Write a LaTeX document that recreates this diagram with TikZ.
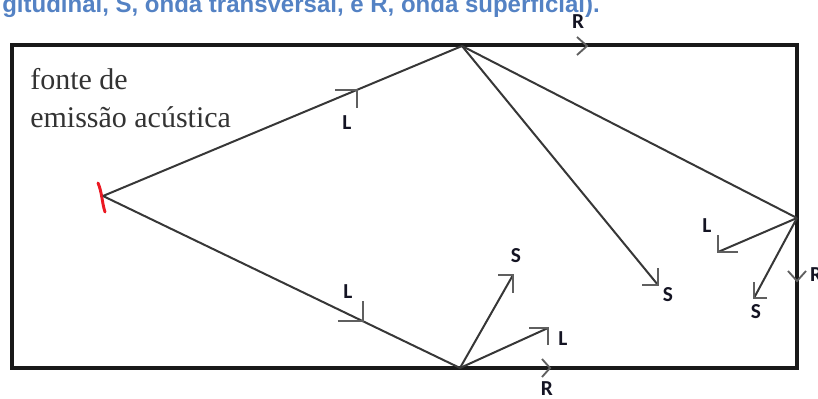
\documentclass[tikz,border=0pt]{standalone}
\usepackage{fontspec}
\setmainfont{Liberation Serif}
\newfontfamily\tagfont{Carlito}
\newfontfamily\capfont{Liberation Sans}

\definecolor{frameColor}{RGB}{25,25,25}
\definecolor{rayColor}{RGB}{55,55,55}
\definecolor{barbColor}{RGB}{95,95,95}
\definecolor{sourceRed}{RGB}{235,25,35}
\definecolor{capBlue}{RGB}{84,130,196}
\definecolor{tagColor}{RGB}{20,20,35}

\begin{document}
\begin{tikzpicture}[
  x=0.75pt, y=-0.75pt,
  frame/.style={draw=frameColor, line width=2.6pt},
  wave/.style={draw=rayColor, line width=1.5pt},
  barb/.style={draw=barbColor, line width=1.4pt},
  sourcemark/.style={draw=sourceRed, line width=2.2pt, line cap=round},
  tag/.style={font=\tagfont\fontsize{16}{16}\selectfont\bfseries, text=tagColor, inner sep=0pt},
  caption/.style={font=\capfont\fontsize{18}{18}\selectfont\bfseries, text=capBlue, inner sep=0pt},
  note/.style={font=\fontsize{22.5}{28.5}\selectfont, text=black!80, align=left, inner sep=0pt}
]
\useasboundingbox (0,0) rectangle (818,399);

% Caption cut by the top edge
\node[caption, anchor=base west] (cap) at (2,13) {gitudinal, S, onda transversal, e R, onda superficial).};

% Specimen outline
\draw[frame] (12,45) rectangle (797,368);

% Source label (base = last line)
\node[note, anchor=base west] (srcText) at (30,128) {fonte de\\emissão acústica};

% Reflection points and wave ends
\coordinate (src) at (103,196);
\coordinate (top) at (462,46);
\coordinate (bot) at (460,368);
\coordinate (rgt) at (797,218);
\coordinate (sTop) at (658,285);
\coordinate (lRgt) at (718,252);
\coordinate (sRgt) at (754,298);
\coordinate (sBot) at (513,275);
\coordinate (lBot) at (548,328);
\coordinate (rTop) at (587,46);
\coordinate (rBot) at (550,368);
\coordinate (rRgt) at (797,281);

% Source mark
\draw[sourcemark] (98,183) .. controls (102,192) and (102,203) .. (105,212);

% Rays
\draw[wave] (src) -- coordinate[pos=0.708] (mkUp) (top);
\draw[wave] (src) -- coordinate[pos=0.728] (mkDown) (bot);
\draw[wave] (top) -- (sTop);
\draw[wave] (top) -- (rgt);
\draw[wave] (rgt) -- (lRgt);
\draw[wave] (rgt) -- (sRgt);
\draw[wave] (bot) -- (sBot);
\draw[wave] (bot) -- (lBot);

% Direction marks
\draw[barb] (mkUp) ++(-22,0) -- (mkUp) -- ++(0,18);
\draw[barb] (mkDown) ++(-25,0) -- (mkDown) -- ++(0,-20);
\draw[barb] (sTop) ++(-16,0) -- (sTop) -- ++(0,-17);
\draw[barb] (lRgt) ++(20,0) -- (lRgt) -- ++(0,-17);
\draw[barb] (sRgt) ++(13,0) -- (sRgt) -- ++(0,-16);
\draw[barb] (sBot) ++(-15,0) -- (sBot) -- ++(0,18);
\draw[barb] (lBot) ++(-19,0) -- (lBot) -- ++(0,17);

% Surface wave marks
\draw[barb] (rTop) ++(-10,-9) -- (rTop) -- ++(-10,9);
\draw[barb] (rBot) ++(-8,-9) -- (rBot) -- ++(-8,9);
\draw[barb] (rRgt) ++(-9,-10) -- (rRgt) -- ++(9,-10);

% Wave labels
\node[tag] (tagL1) at (347,123) {L};
\node[tag] (tagL2) at (348,292) {L};
\node[tag] (tagS1) at (668,295) {S};
\node[tag] (tagL3) at (707,226) {L};
\node[tag] (tagS2) at (756,312) {S};
\node[tag] (tagS3) at (516,256) {S};
\node[tag] (tagL4) at (563,339) {L};
\node[tag] (tagR1) at (578,22) {R};
\node[tag] (tagR2) at (547,389) {R};
\node[tag] (tagR3) at (816,275) {R};

\end{tikzpicture}
\end{document}
